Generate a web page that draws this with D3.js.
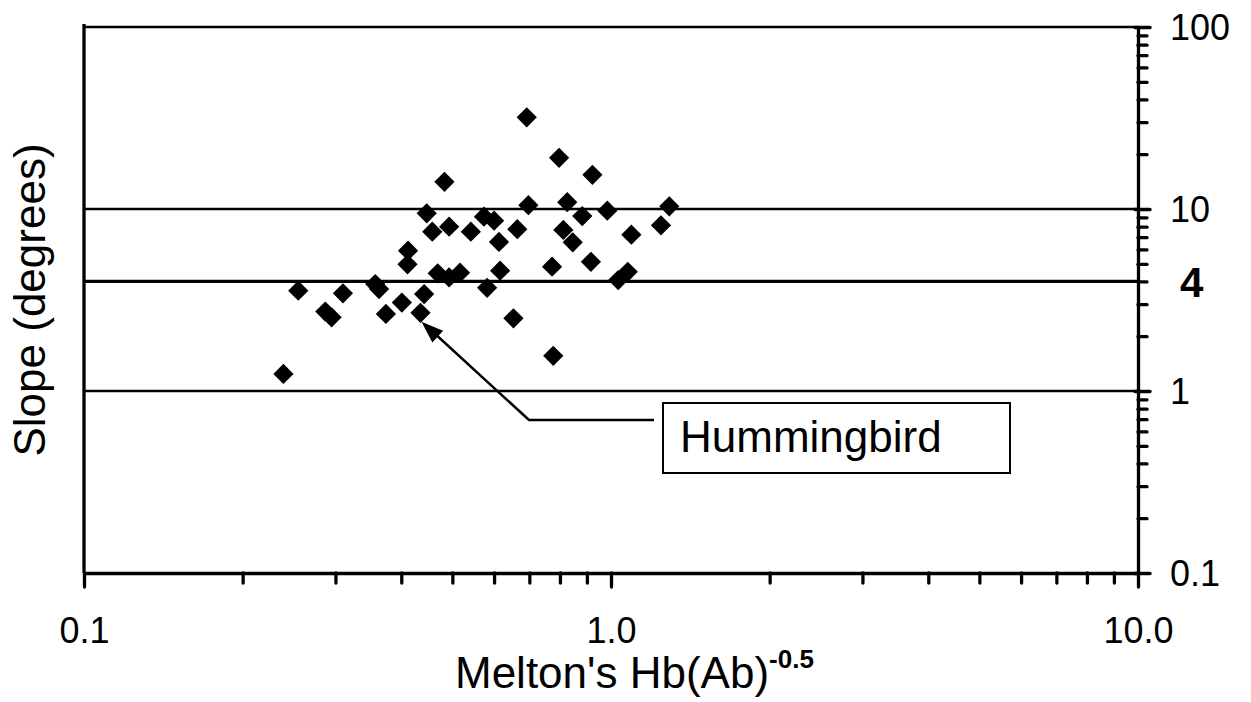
<!DOCTYPE html>
<html>
<head>
<meta charset="utf-8">
<script src="https://cdn.jsdelivr.net/npm/d3@7"></script>
<style>
  body { margin: 0; background: #fff; }
  svg { display: block; font-family: "Liberation Sans", Arial, sans-serif; }
</style>
</head>
<body>
<div id="chart"></div>
<script>
// Melton's Hb(Ab)^-0.5 for each site, and the slope measured there
var hbValues = [0.692, 0.797, 0.922, 0.483, 0.447, 0.697, 0.826, 0.984, 1.29, 0.882,
                0.574, 0.600, 0.458, 0.493, 0.542, 0.664, 0.613, 0.812, 0.846, 1.093,
                1.244, 0.412, 0.411, 0.469, 0.493, 0.517, 0.616, 0.773, 0.916, 1.076,
                1.032, 0.582, 0.442, 0.401, 0.435, 0.653, 0.777, 0.255, 0.310, 0.357,
                0.363, 0.374, 0.287, 0.295, 0.239];
var slopeValues = [31.9, 19.1, 15.4, 14.1, 9.47, 10.5, 10.9, 9.79, 10.35, 9.15,
                   9.07, 8.62, 7.50, 7.99, 7.50, 7.74, 6.59, 7.67, 6.56, 7.22,
                   8.14, 5.90, 4.97, 4.43, 4.21, 4.47, 4.58, 4.82, 5.13, 4.52,
                   4.07, 3.69, 3.41, 3.06, 2.69, 2.51, 1.56, 3.56, 3.44, 3.87,
                   3.63, 2.65, 2.73, 2.54, 1.24];
var hummingbirdIndex = 34;

// axis ticks
var xMajorTicks = [0.1, 1, 10];
var xMinorTicks = [0.2, 0.3, 0.4, 0.5, 0.6, 0.7, 0.8, 0.9, 2, 3, 4, 5, 6, 7, 8, 9];
var yMajorTicks = [0.1, 1, 10, 100];
var yMinorTicks = [0.2, 0.3, 0.4, 0.5, 0.6, 0.7, 0.8, 0.9, 2, 3, 4, 5, 6, 7, 8, 9,
                   20, 30, 40, 50, 60, 70, 80, 90];
var refLines = [1, 10, 100];
var thresholdLine = 4;

var data = hbValues.map(function(v, i) { return {hb: v, slope: slopeValues[i]}; });

var width = 1251, height = 702;

var svg = d3.select("#chart")
    .append("svg")
    .attr("width", width)
    .attr("height", height);

var x = d3.scaleLog().domain([0.1, 10]).range([84, 1138]);
var y = d3.scaleLog().domain([0.1, 100]).range([573, 27]);

// horizontal reference lines
svg.selectAll(".ref")
    .data(refLines)
    .enter()
    .append("line")
    .attr("x1", x(0.1))
    .attr("x2", x(10))
    .attr("y1", function(d) { return y(d); })
    .attr("y2", function(d) { return y(d); })
    .style("stroke", "#000")
    .style("stroke-width", 2.3);

svg.append("line")
    .attr("x1", x(0.1))
    .attr("x2", x(10))
    .attr("y1", y(thresholdLine))
    .attr("y2", y(thresholdLine))
    .style("stroke", "#000")
    .style("stroke-width", 3.3);

// left axis line (no ticks)
svg.append("line")
    .attr("x1", x(0.1)).attr("x2", x(0.1))
    .attr("y1", y(100) - 3).attr("y2", y(0.1))
    .style("stroke", "#000")
    .style("stroke-width", 3.3);

// x axis
var xMinor = svg.append("g")
    .attr("transform", "translate(0," + y(0.1) + ")")
    .call(d3.axisBottom(x).tickValues(xMinorTicks).tickSize(10).tickFormat(""));
xMinor.select(".domain").remove();

var xAxis = svg.append("g")
    .attr("transform", "translate(0," + y(0.1) + ")")
    .call(d3.axisBottom(x).tickValues(xMajorTicks).tickSizeInner(14).tickSizeOuter(0)
        .tickFormat(d3.format(".1f")));
xAxis.select(".domain").style("stroke-width", 3.3);
xAxis.selectAll("text")
    .attr("y", 70)
    .attr("dy", 0)
    .style("font-size", "36px")
    .style("fill", "#000");

// right axis
var yMinor = svg.append("g")
    .attr("transform", "translate(" + x(10) + ",0)")
    .call(d3.axisRight(y).tickValues(yMinorTicks).tickSize(9).tickFormat(""));
yMinor.select(".domain").remove();

var yAxis = svg.append("g")
    .attr("transform", "translate(" + x(10) + ",0)")
    .call(d3.axisRight(y).tickValues(yMajorTicks).tickSizeInner(12).tickSizeOuter(0)
        .tickFormat(d3.format("~g")));
yAxis.select(".domain").style("stroke-width", 3.3);
yAxis.selectAll(".tick line").attr("x1", -3);
yAxis.selectAll("text")
    .attr("x", 32)
    .attr("dy", "0.36em")
    .style("text-anchor", "start")
    .style("font-size", "36px")
    .style("fill", "#000");

svg.selectAll(".tick line").style("stroke-width", 3.3).style("stroke-linecap", "round");
svg.selectAll(".tick line").style("stroke", "#000");

// bold threshold label
svg.append("text")
    .attr("x", x(10) + 42)
    .attr("y", y(thresholdLine))
    .attr("dy", "0.36em")
    .style("font-size", "42px")
    .style("font-weight", "bold")
    .text(thresholdLine);

// diamonds
var diamond = d3.symbol().type(d3.symbolSquare).size(205);
svg.selectAll(".pt")
    .data(data)
    .enter()
    .append("path")
    .attr("d", diamond)
    .attr("transform", function(d) {
        return "translate(" + x(d.hb) + "," + y(d.slope) + ") rotate(45)";
    })
    .style("fill", "#000");

// hummingbird callout
var hb = data[hummingbirdIndex];
var tipX = x(hb.hb) + 1, tipY = y(hb.slope) + 9;
var elbowX = 529, elbowY = 420, boxX = 663, boxY = 403;

svg.append("polyline")
    .attr("points", [[boxX - 9, elbowY], [elbowX, elbowY], [tipX + 8, tipY + 7]].join(" "))
    .style("fill", "none")
    .style("stroke", "#000")
    .style("stroke-width", 2.5);

var ang = Math.atan2(elbowY - tipY, elbowX - tipX);
var headLen = 22, headHalf = 8;
var bx = tipX + headLen * Math.cos(ang), by = tipY + headLen * Math.sin(ang);
svg.append("path")
    .attr("d", "M" + tipX + "," + tipY +
        "L" + (bx - headHalf * Math.sin(ang)) + "," + (by + headHalf * Math.cos(ang)) +
        "L" + (bx + headHalf * Math.sin(ang)) + "," + (by - headHalf * Math.cos(ang)) + "Z")
    .style("fill", "#000");

svg.append("rect")
    .attr("x", boxX)
    .attr("y", boxY)
    .attr("width", 347)
    .attr("height", 70)
    .style("fill", "#fff")
    .style("stroke", "#000")
    .style("stroke-width", 2);

svg.append("text")
    .attr("x", boxX + 17)
    .attr("y", 452)
    .style("font-size", "44px")
    .text("Hummingbird");

// axis titles
var xTitle = svg.append("text")
    .attr("x", 455)
    .attr("y", 688)
    .style("font-size", "44px")
    .text("Melton's Hb(Ab)");
xTitle.append("tspan")
    .attr("dy", -20)
    .style("font-size", "26px")
    .style("font-weight", "bold")
    .text("-0.5");

svg.append("text")
    .attr("transform", "translate(45," + (y(100) + y(0.1)) / 2 + ") rotate(-90)")
    .attr("text-anchor", "middle")
    .style("font-size", "44px")
    .text("Slope (degrees)");
</script>
</body>
</html>
